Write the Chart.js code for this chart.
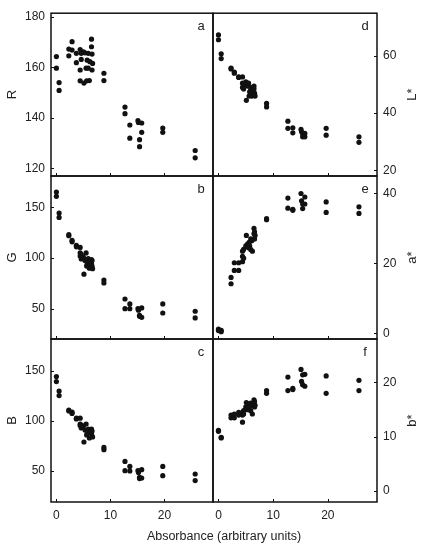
<!DOCTYPE html>
<html>
<head>
<meta charset="utf-8">
<script src="https://cdn.jsdelivr.net/npm/chart.js@4"></script>
<style>
  body { margin: 0; background: #fff; width: 426px; height: 550px; position: relative; overflow: hidden; }
  canvas { position: absolute; left: 0; top: 0; }
  #xtitle { position: absolute; left: 0; width: 448px; top: 529px; text-align: center;
            font: 12.5px "Liberation Sans", Arial, sans-serif; color: #222; }
</style>
</head>
<body>
<canvas id="pa" width="426" height="550"></canvas>
<canvas id="pb" width="426" height="550"></canvas>
<canvas id="pc" width="426" height="550"></canvas>
<canvas id="pd" width="426" height="550"></canvas>
<canvas id="pe" width="426" height="550"></canvas>
<canvas id="pf" width="426" height="550"></canvas>
<div id="xtitle">Absorbance (arbitrary units)</div>
<script>
// absorbance of each sample (shared x for all six panels)
var absorbance = [0, 0, 0.5, 0.5, 2.3, 2.3, 2.9, 2.9, 3.7, 3.7,
    4.4, 4.4, 4.4, 4.6, 4.6, 5.0, 5.1, 5.3, 5.5, 5.6, 5.7, 5.9, 5.9, 6.1, 6.2, 6.5, 6.5, 6.6, 6.6, 6.7,
    8.8, 8.8, 12.7, 12.7, 13.6, 13.6, 15.1, 15.2, 15.4, 15.4, 15.8, 15.8, 19.7, 19.7, 25.7, 25.7];

var valR = [164.3, 159.7, 154, 150.9, 167.3, 164.6, 170.2, 166.9, 165.6, 161.9,
    167.1, 159, 154.7, 165.6, 163.2, 166.2, 153.8, 165.8, 159.7, 154.7, 162.9, 165.6, 159.7, 154.8, 162.3, 171.2, 168.2, 165.3, 159, 161.6,
    157.7, 154.8, 144.3, 141.7, 137.2, 132, 138.9, 138.2, 131.4, 128.6, 138, 134.3, 136, 134.3, 127.1, 124.2];

var valG = [165.1, 160.9, 144.4, 140.1, 123, 122, 117.5, 116, 112.5, 111,
    110.5, 105, 102, 103.5, 99, 101, 84, 97.5, 105, 92, 93.5, 99.5, 96, 90, 93.5, 98.5, 95, 97.5, 92, 89.5,
    78.3, 75.3, 59.5, 50, 54.6, 50, 50, 48.5, 43.4, 42.4, 50.7, 41.4, 54.6, 45.7, 47.4, 40.8];

var valB = [144.4, 139.4, 130, 125.4, 111, 110, 108.8, 107.5, 102.8, 102,
    102.8, 97, 95.5, 96, 93, 95, 79, 91, 97, 86, 88, 92, 90, 83, 88, 92, 88, 90, 85, 84,
    73.6, 71.3, 59.6, 50.3, 54.6, 50, 50.3, 48.5, 43.7, 42.4, 51.3, 43, 54.6, 45.3, 47, 40.4];

var valL = [67.4, 65.7, 60.8, 59.1, 55.8, 55.5, 54.4, 54, 52.7, 52.5,
    52.7, 50.5, 49, 50, 48.5, 51, 44.5, 49.5, 50.5, 46, 47.5, 49, 48, 46, 47, 49.5, 48.5, 47, 46.5, 46,
    43.4, 42.2, 37.2, 34.7, 34.9, 33.1, 34.3, 33.5, 32.7, 31.7, 32.9, 31.7, 34.7, 32.3, 31.7, 29.8];

var valA = [1.2, 0.8, 0.9, 0.5, 16, 14.2, 18, 20.2, 18, 20.2,
    20.5, 22, 23.5, 24, 21.5, 25, 28, 25.5, 24.5, 26, 25, 27, 24, 26.5, 23.5, 30, 28.5, 27, 29, 28,
    32.5, 32.8, 38.7, 35.8, 35.2, 35.5, 40, 37.9, 35.7, 37, 39, 37, 37.6, 34.6, 36.2, 34.3];

var valBs = [11.2, 11.0, 9.8, 9.9, 14, 13.5, 13.5, 14.2, 14.5, 14,
    12.7, 14.5, 14, 14.8, 14.2, 15.5, 16.3, 15, 16, 15.2, 15.5, 16.2, 14.8, 15.8, 14.2, 16.8, 16, 15.5, 16.5, 15.8,
    18.5, 18, 21, 18.5, 18.7, 18.9, 22.4, 20.2, 21.4, 19.6, 21.5, 19.3, 21.2, 18, 20.4, 18.5];

// tick labels
var xTicks = [0, 10, 20];
var ticksR = [120, 140, 160, 180];
var ticksG = [50, 100, 150];
var ticksB = [50, 100, 150];
var ticksL = [20, 40, 60];
var ticksA = [0, 20, 40];
var ticksBs = [0, 10, 20];

var FONT = '"Liberation Sans", Arial, sans-serif';
var INK = '#111';

var panels = [
    { id: 'pa', vals: valR,  ticks: ticksR,  letter: 'a', title: 'R',  left: true,  top: 13,  min: 117,  max: 181.5 },
    { id: 'pb', vals: valG,  ticks: ticksG,  letter: 'b', title: 'G',  left: true,  top: 176, min: 20,   max: 181 },
    { id: 'pc', vals: valB,  ticks: ticksB,  letter: 'c', title: 'B',  left: true,  top: 339, min: 19,   max: 182, bottom: true },
    { id: 'pd', vals: valL,  ticks: ticksL,  letter: 'd', title: 'L*', left: false, top: 13,  min: 18,   max: 75 },
    { id: 'pe', vals: valA,  ticks: ticksA,  letter: 'e', title: 'a*', left: false, top: 176, min: -1.6, max: 45 },
    { id: 'pf', vals: valBs, ticks: ticksBs, letter: 'f', title: 'b*', left: false, top: 339, min: -2,   max: 28, bottom: true }
];

function framePlugin(p) {
    return {
        id: 'frame',
        afterDraw: function (chart) {
            var ctx = chart.ctx, a = chart.chartArea;
            var sx = chart.scales.x, sy = chart.scales.y;
            ctx.save();
            ctx.strokeStyle = INK;
            ctx.lineWidth = 1.5;
            ctx.strokeRect(a.left, a.top, a.right - a.left, a.bottom - a.top);
            // inward tick marks
            ctx.lineWidth = 1;
            ctx.beginPath();
            sx.ticks.forEach(function (t) {
                var px = Math.round(sx.getPixelForValue(t.value)) + 0.5;
                ctx.moveTo(px, a.bottom);
                ctx.lineTo(px, a.bottom - 3);
            });
            sy.ticks.forEach(function (t) {
                var py = Math.round(sy.getPixelForValue(t.value)) + 0.5;
                if (p.left) { ctx.moveTo(a.left, py); ctx.lineTo(a.left + 3, py); }
                else { ctx.moveTo(a.right, py); ctx.lineTo(a.right - 3, py); }
            });
            ctx.stroke();
            // panel letter
            ctx.fillStyle = '#222';
            ctx.font = '13px ' + FONT;
            ctx.textAlign = 'center';
            ctx.textBaseline = 'middle';
            ctx.fillText(p.letter, a.right - 12, a.top + 13);
            // axis title
            ctx.translate(p.left ? 12 : 412, (a.top + a.bottom) / 2);
            ctx.rotate(-Math.PI / 2);
            ctx.fillText(p.title, 0, 0);
            ctx.restore();
        }
    };
}

function setTicks(list) {
    return function (s) { s.ticks = list.map(function (v) { return { value: v }; }); };
}

panels.forEach(function (p) {
    var pts = absorbance.map(function (x, i) { return { x: x, y: p.vals[i] }; });
    new Chart(document.getElementById(p.id), {
        type: 'scatter',
        data: {
            datasets: [{
                data: pts,
                backgroundColor: INK,
                borderWidth: 0,
                pointRadius: 2.6,
                pointHoverRadius: 2.6
            }]
        },
        options: {
            responsive: false,
            animation: false,
            devicePixelRatio: 1,
            layout: {
                padding: {
                    left: p.left ? 0 : 213,
                    right: p.left ? 213 : 0,
                    top: p.top,
                    bottom: p.bottom ? 0 : 550 - (p.top + 163)
                }
            },
            plugins: { legend: { display: false }, tooltip: { enabled: false } },
            scales: {
                x: {
                    type: 'linear', min: -1, max: 29,
                    grid: { display: false, drawTicks: false },
                    border: { display: false },
                    ticks: { display: !!p.bottom, padding: 6,
                             color: '#222', font: { size: 12, family: FONT } },
                    afterBuildTicks: setTicks(xTicks),
                    afterFit: function (s) { s.height = p.bottom ? 48 : 0; }
                },
                y: {
                    type: 'linear', position: p.left ? 'left' : 'right',
                    min: p.min, max: p.max,
                    grid: { display: false, drawTicks: false },
                    border: { display: false },
                    ticks: { padding: 6, color: '#222', font: { size: 12, family: FONT } },
                    afterBuildTicks: setTicks(p.ticks),
                    afterFit: function (s) { s.width = p.left ? 51 : 49; }
                }
            }
        },
        plugins: [framePlugin(p)]
    });
});
</script>
</body>
</html>
